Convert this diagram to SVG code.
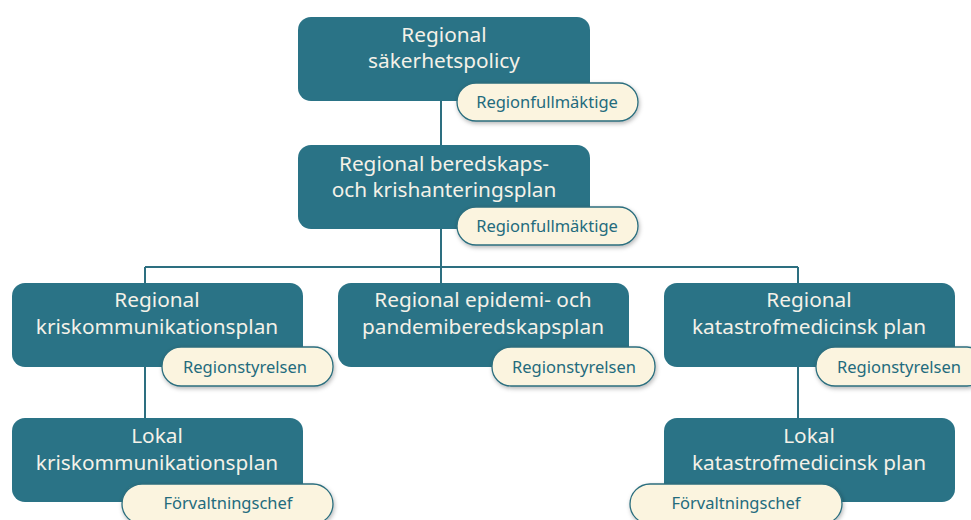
<svg xmlns="http://www.w3.org/2000/svg" width="971" height="520" viewBox="0 0 971 520">
<defs>
<filter id="sh" x="-20%" y="-30%" width="140%" height="170%">
<feDropShadow dx="1" dy="2" stdDev="2" flood-color="#000" flood-opacity="0.28"/>
</filter>
<style>
.box{fill:#2a7386;}
.pill{fill:#fbf4df;stroke:#2b6e7e;stroke-width:1.3;filter:url(#sh);}
.bt{font-family:"Noto Sans","Open Sans",sans-serif;font-size:20.8px;fill:#f4f1e8;text-anchor:middle;}
.pt{font-family:"Noto Sans","Open Sans",sans-serif;font-size:16.5px;fill:#236b7d;text-anchor:middle;}
.ln{stroke:#2d6f80;stroke-width:2;fill:none;}
</style>
</defs>
<rect width="971" height="520" fill="#ffffff"/>
<g id="connectors">
<path class="ln" d="M441 100 V146 M441 229 V283 M145 267 H798 M145 267 V283 M798 267 V283 M145 366 V418 M798 366 V418"/>
</g>
<g id="n1">
<rect class="box" x="298" y="17" width="292" height="84" rx="13"/>
<text class="bt" x="444" y="42">Regional</text>
<text class="bt" x="444" y="68">säkerhetspolicy</text>
<rect class="pill" x="457" y="83" width="181" height="38" rx="19"/>
<text class="pt" x="547" y="108">Regionfullmäktige</text>
</g>
<g id="n2">
<rect class="box" x="298" y="145" width="292" height="84" rx="13"/>
<text class="bt" x="444" y="171">Regional beredskaps-</text>
<text class="bt" x="444" y="197">och krishanteringsplan</text>
<rect class="pill" x="457" y="207" width="181" height="38" rx="19"/>
<text class="pt" x="547" y="232">Regionfullmäktige</text>
</g>
<g id="n3">
<rect class="box" x="12" y="283" width="291" height="84" rx="13"/>
<text class="bt" x="157" y="307">Regional</text>
<text class="bt" x="157" y="334">kriskommunikationsplan</text>
<rect class="pill" x="162" y="347" width="171" height="39" rx="19"/>
<text class="pt" x="245" y="372.5">Regionstyrelsen</text>
</g>
<g id="n4">
<rect class="box" x="338" y="283" width="291" height="84" rx="13"/>
<text class="bt" x="483" y="307">Regional epidemi- och</text>
<text class="bt" x="483" y="334">pandemiberedskapsplan</text>
<rect class="pill" x="492" y="347" width="163" height="39" rx="19"/>
<text class="pt" x="574" y="372.5">Regionstyrelsen</text>
</g>
<g id="n5">
<rect class="box" x="664" y="283" width="291" height="84" rx="13"/>
<text class="bt" x="809" y="307">Regional</text>
<text class="bt" x="809" y="334">katastrofmedicinsk plan</text>
<rect class="pill" x="816" y="347" width="170" height="39" rx="19"/>
<text class="pt" x="899" y="372.5">Regionstyrelsen</text>
</g>
<g id="n6">
<rect class="box" x="12" y="418" width="291" height="84" rx="13"/>
<text class="bt" x="157" y="443">Lokal</text>
<text class="bt" x="157" y="470">kriskommunikationsplan</text>
<rect class="pill" x="122" y="484" width="211" height="40" rx="20"/>
<text class="pt" x="228" y="509">Förvaltningschef</text>
</g>
<g id="n7">
<rect class="box" x="664" y="418" width="291" height="84" rx="13"/>
<text class="bt" x="809" y="443">Lokal</text>
<text class="bt" x="809" y="470">katastrofmedicinsk plan</text>
<rect class="pill" x="630" y="484" width="212" height="40" rx="20"/>
<text class="pt" x="736" y="509">Förvaltningschef</text>
</g>
</svg>
